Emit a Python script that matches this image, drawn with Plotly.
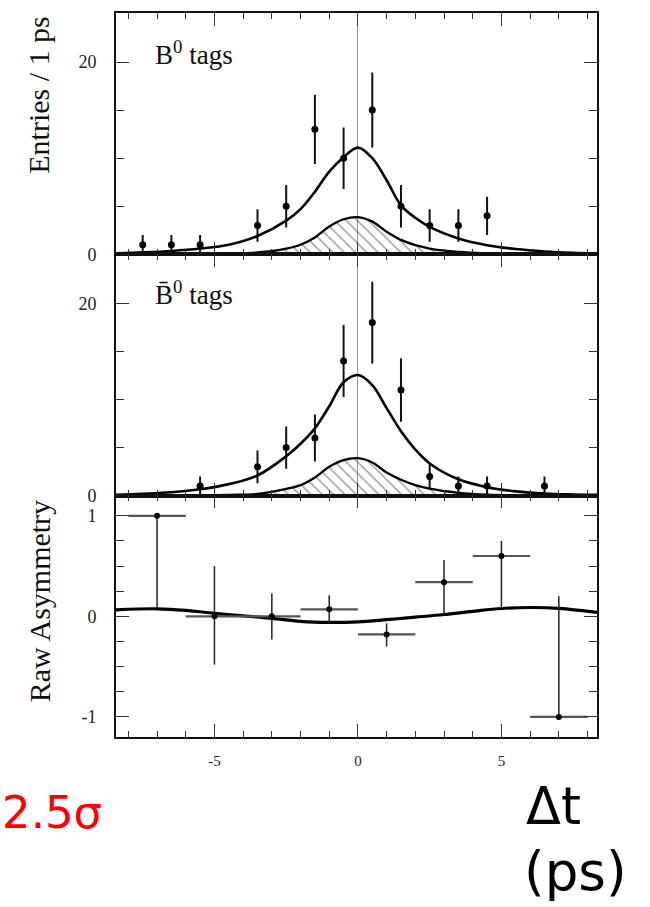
import plotly.graph_objects as go
from plotly.subplots import make_subplots

# ---------------- data ----------------
b0_x = [-7.5, -6.5, -5.5, -3.5, -2.5, -1.5, -0.5, 0.5, 1.5, 2.5, 3.5, 4.5]
b0_n = [1, 1, 1, 3, 5, 13, 10, 15, 5, 3, 3, 4]
b0_err = [1, 1, 1, 1.7, 2.2, 3.6, 3.2, 3.9, 2.2, 1.7, 1.7, 2.0]

b0bar_x = [-5.5, -3.5, -2.5, -1.5, -0.5, 0.5, 1.5, 2.5, 3.5, 4.5, 6.5]
b0bar_n = [1, 3, 5, 6, 14, 18, 11, 2, 1, 1, 1]
b0bar_err = [1, 1.7, 2.2, 2.45, 3.75, 4.25, 3.3, 1.4, 1, 1, 1]

fit_x = [-8.43, -7.5, -6.5, -5.5, -4.5, -3.5, -2.5, -2.0, -1.5, -1.0, -0.5, 0.0,
         0.5, 1.0, 1.5, 2.0, 2.5, 3.5, 4.5, 5.5, 6.5, 7.5, 8.33]
fit_b0 = [0.1, 0.2, 0.35, 0.6, 1.0, 1.9, 3.5, 4.7, 6.5, 8.6, 10.1, 11.1,
          10.0, 7.7, 5.1, 3.8, 2.85, 1.65, 0.95, 0.55, 0.3, 0.15, 0.08]
bkg_b0 = [0, 0, 0.01, 0.03, 0.08, 0.2, 0.6, 1.0, 1.75, 2.9, 3.65, 3.87,
          3.4, 2.35, 1.5, 0.95, 0.6, 0.25, 0.1, 0.04, 0.02, 0.01, 0]
fit_b0bar = [0.1, 0.2, 0.35, 0.66, 1.2, 2.1, 4.1, 5.4, 7.0, 9.3, 11.8, 12.55,
             11.5, 9.1, 6.7, 4.8, 3.35, 1.7, 0.88, 0.45, 0.22, 0.12, 0.08]
bkg_b0bar = [0, 0, 0.01, 0.03, 0.08, 0.18, 0.7, 1.1, 1.9, 3.0, 3.7, 3.9,
             3.45, 2.4, 1.65, 1.1, 0.72, 0.3, 0.1, 0.04, 0.02, 0.01, 0]

asym_x = [-7, -5, -3, -1, 1, 3, 5, 7]
asym_y = [1.0, 0.0, 0.0, 0.07, -0.18, 0.34, 0.6, -1.0]
asym_xerr = [1, 1, 1, 1, 1, 1, 1, 1]
asym_err_plus = [0, 0.5, 0.23, 0.14, 0.11, 0.22, 0.15, 1.2]
asym_err_minus = [0.92, 0.48, 0.23, 0.13, 0.12, 0.32, 0.52, 0]

asym_fit_x = [-8.43, -7, -6, -5, -4, -3, -2, -1, 0, 1, 2, 3, 4, 5, 6, 7, 8.33]
asym_fit_y = [0.065, 0.075, 0.06, 0.03, 0.005, -0.02, -0.05, -0.06, -0.055,
              -0.033, -0.008, 0.018, 0.05, 0.078, 0.088, 0.08, 0.04]

x_tickvals = [-5, 0, 5]
x_ticktext = ["-5", "0", "5"]
count_tickvals = [0, 20]
count_ticktext = ["0", "20"]
asym_tickvals = [-1, 0, 1]
asym_ticktext = ["-1", "0", "1"]

panel_labels = ["B<sup>0</sup> tags", "B\u0304<sup>0</sup> tags"]
y_titles = ["Entries / 1 ps", "Raw Asymmetry"]

# ---------------- figure ----------------
W, H = 650, 907
ML, MR, MT, MB = 116, 53, 11, 170
PW, PH = W - ML - MR, H - MT - MB

def px2paper(px, py):
    return (px - ML) / PW, (H - MB - py) / PH

fig = make_subplots(rows=3, cols=1, shared_xaxes=True, vertical_spacing=0)

serif = "Liberation Serif"

for row, (xs, ns, es, fit, bkg) in enumerate(
        [(b0_x, b0_n, b0_err, fit_b0, bkg_b0),
         (b0bar_x, b0bar_n, b0bar_err, fit_b0bar, bkg_b0bar)], start=1):
    fig.add_trace(go.Scatter(
        x=fit_x, y=bkg, mode="lines", line=dict(color="black", width=2.3, shape="spline"),
        fill="tozeroy", fillcolor="rgba(255,255,255,0)",
        fillpattern=dict(shape="\\", fgcolor="#333333", bgcolor="rgba(255,255,255,0)",
                         size=8, solidity=0.18),
        showlegend=False, hoverinfo="skip"), row=row, col=1)
    fig.add_trace(go.Scatter(
        x=fit_x, y=fit, mode="lines", line=dict(color="black", width=2.6, shape="spline"),
        showlegend=False), row=row, col=1)
    fig.add_trace(go.Scatter(
        x=xs, y=ns, mode="markers", marker=dict(color="black", size=7),
        error_y=dict(type="data", array=es, visible=True, color="#111111",
                     thickness=2, width=0),
        showlegend=False), row=row, col=1)

fig.add_trace(go.Scatter(
    x=asym_fit_x, y=asym_fit_y, mode="lines",
    line=dict(color="black", width=3.2, shape="spline"), showlegend=False), row=3, col=1)
fig.add_trace(go.Scatter(
    x=asym_x, y=asym_y, mode="markers", marker=dict(color="black", size=6),
    error_y=dict(type="data", symmetric=False, array=asym_err_plus,
                 arrayminus=asym_err_minus, visible=True, color="#222222",
                 thickness=1.5, width=0),
    error_x=dict(type="data", array=asym_xerr, visible=True, color="#555555",
                 thickness=2.2, width=0),
    showlegend=False), row=3, col=1)

axis_common = dict(ticks="inside", tickcolor="#333333", tickwidth=1,
                   showline=True, linecolor="#111111", linewidth=1.6,
                   mirror="allticks", showgrid=False)

for i in range(1, 4):
    fig.update_xaxes(range=[-8.43, 8.33], tickmode="array", tickvals=x_tickvals,
                     ticktext=x_ticktext, ticklen=13,
                     minor=dict(dtick=1, tick0=0, ticklen=6, ticks="inside",
                                tickcolor="#333333"),
                     zeroline=(i < 3), zerolinecolor="#999999", zerolinewidth=1,
                     showticklabels=(i == 3), ticklabelstandoff=9,
                     tickfont=dict(family=serif, size=15, color="#222222"),
                     row=i, col=1, **axis_common)

for i in (1, 2):
    fig.update_yaxes(range=[0, 25.1], tickmode="array", tickvals=count_tickvals,
                     ticktext=count_ticktext, ticklen=13,
                     minor=dict(dtick=5, tick0=0, ticklen=8, ticks="inside",
                                tickcolor="#333333"),
                     zeroline=False, ticklabelstandoff=14,
                     tickfont=dict(family=serif, size=18, color="#222222"),
                     row=i, col=1, **axis_common)
fig.update_yaxes(range=[-1.2, 1.2], tickmode="array", tickvals=asym_tickvals,
                 ticktext=asym_ticktext, ticklen=13,
                 minor=dict(dtick=0.25, tick0=0, ticklen=8, ticks="inside",
                            tickcolor="#333333"),
                 zeroline=False, ticklabelstandoff=14,
                 tickfont=dict(family=serif, size=18, color="#222222"),
                 row=3, col=1, **axis_common)

annotations = []
for (px, py), txt in zip([(153, 51), (153, 292)], panel_labels):
    ax, ay = px2paper(px, py)
    annotations.append(dict(x=ax, y=ay, xref="paper", yref="paper", text=txt,
                            showarrow=False, xanchor="left", yanchor="middle",
                            font=dict(family=serif, size=27, color="#111111")))
for (px, py), txt in zip([(39, 93), (39, 601)], y_titles):
    ax, ay = px2paper(px, py)
    annotations.append(dict(x=ax, y=ay, xref="paper", yref="paper", text=txt,
                            showarrow=False, textangle=-90, xanchor="center",
                            yanchor="middle",
                            font=dict(family=serif, size=30, color="#111111")))

ax, ay = px2paper(0, 813)
annotations.append(dict(x=ax, y=ay, xref="paper", yref="paper", text="2.5σ",
                        showarrow=False, xanchor="left", yanchor="middle",
                        font=dict(family="DejaVu Sans", size=45, color="#ff0000")))
ax, ay = px2paper(524, 807)
annotations.append(dict(x=ax, y=ay, xref="paper", yref="paper", text="Δt",
                        showarrow=False, xanchor="left", yanchor="middle",
                        font=dict(family="DejaVu Sans", size=51, color="#000000")))
ax, ay = px2paper(522, 872)
annotations.append(dict(x=ax, y=ay, xref="paper", yref="paper", text="(ps)",
                        showarrow=False, xanchor="left", yanchor="middle",
                        font=dict(family="DejaVu Sans", size=53, color="#000000")))

fig.update_layout(width=W, height=H, margin=dict(l=ML, r=MR, t=MT, b=MB),
                  plot_bgcolor="white", paper_bgcolor="white",
                  annotations=annotations, showlegend=False)

fig.write_html("out.html")
